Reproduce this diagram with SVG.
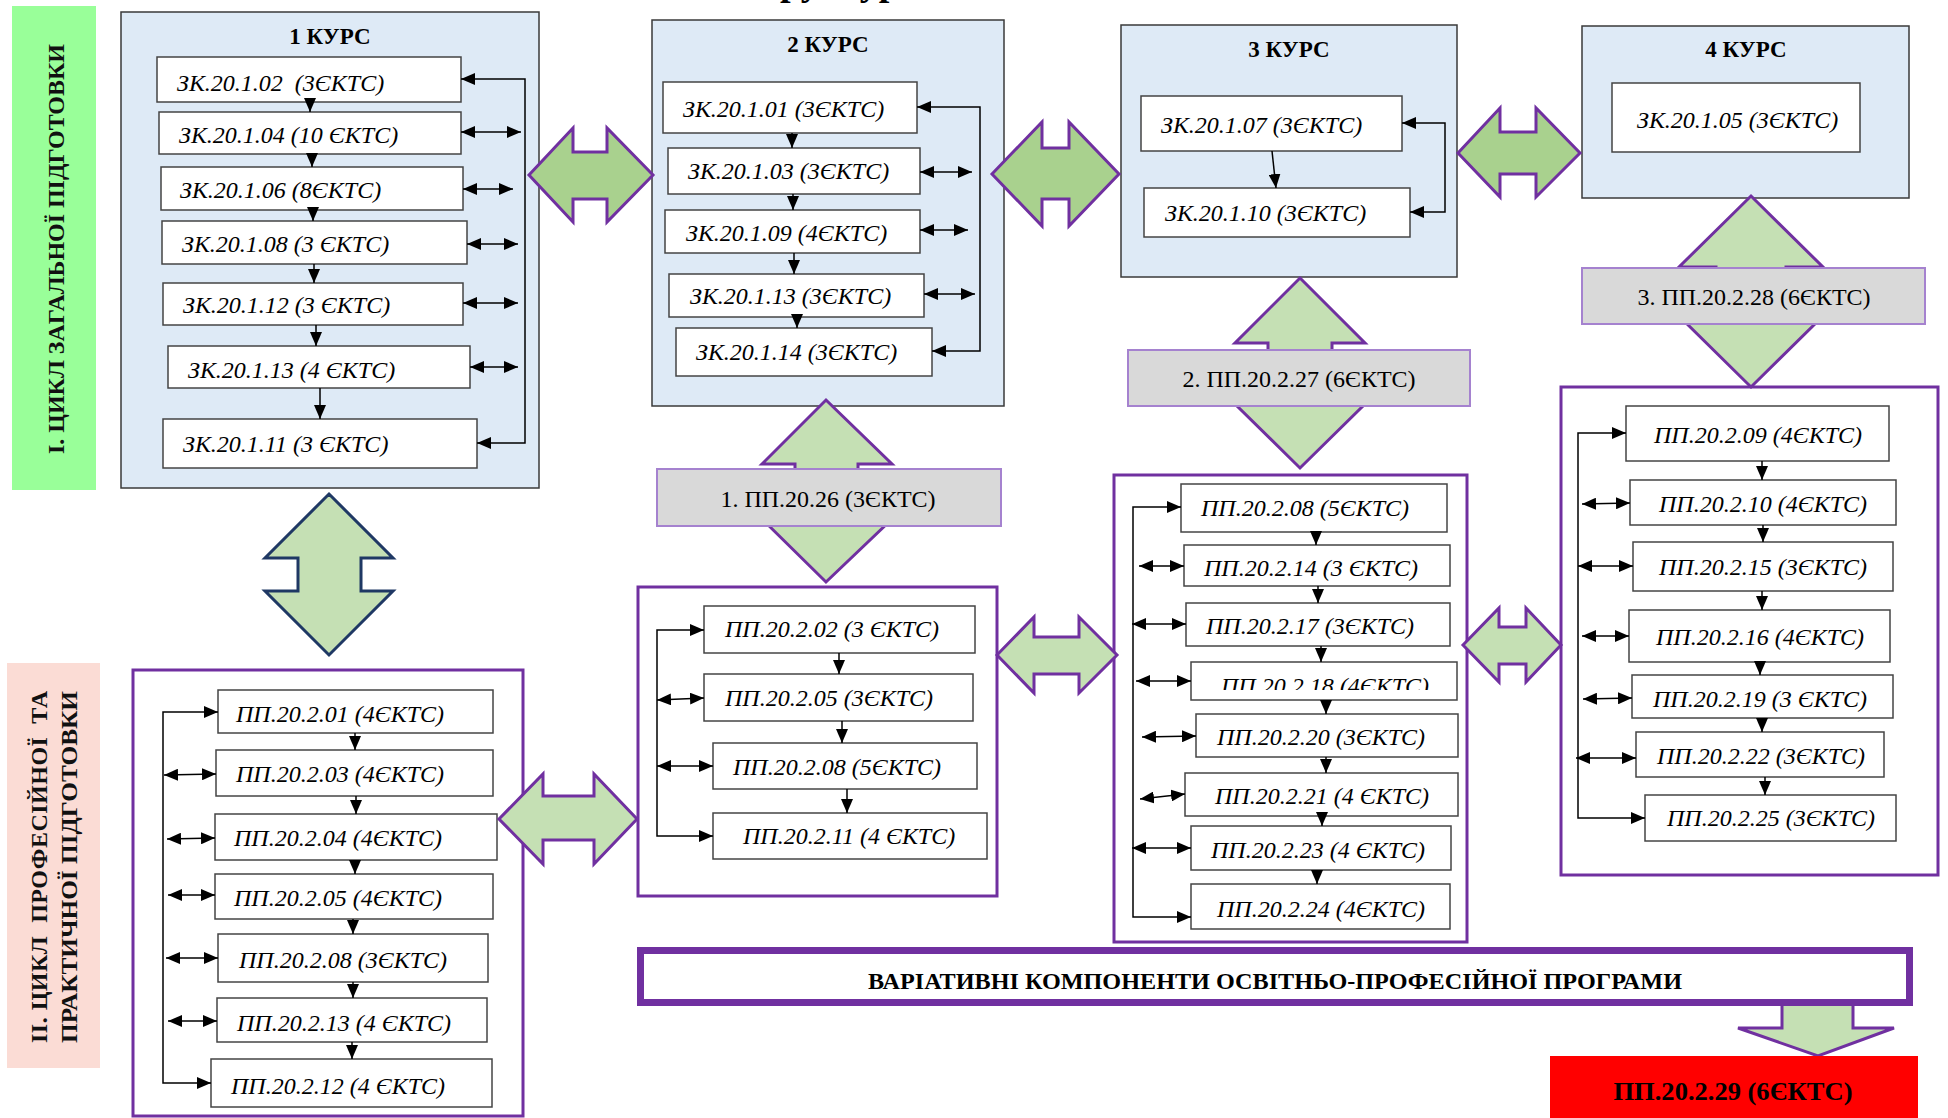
<svg xmlns="http://www.w3.org/2000/svg" width="1948" height="1118" viewBox="0 0 1948 1118">
<defs>
<style>
.course{fill:#DEEAF6;stroke:#3a3a3a;stroke-width:1.5}
.box{fill:#ffffff;stroke:#444444;stroke-width:1.5}
.grp{fill:#ffffff;stroke:#7030A0;stroke-width:3}
.gray{fill:#D9D9D9;stroke:#A582CF;stroke-width:2}
.t{font-family:"Liberation Serif","Times New Roman",serif;font-style:italic;font-size:24px;fill:#000}
.hd{font-family:"Liberation Serif","Times New Roman",serif;font-weight:bold;font-size:23px;fill:#000;text-anchor:middle}
.reg{font-family:"Liberation Serif","Times New Roman",serif;font-size:24px;fill:#000;text-anchor:middle}
.lbl{font-family:"Liberation Serif","Times New Roman",serif;font-weight:bold;font-size:24px;fill:#111;text-anchor:middle}
.ln{stroke:#000;stroke-width:1.5;fill:none}
.dn{stroke:#000;stroke-width:1.5;fill:none;marker-end:url(#ah)}
.dbl{stroke:#000;stroke-width:1.5;fill:none;marker-start:url(#ah);marker-end:url(#ah)}
.bigA{fill:#A9D18E;stroke:#7030A0;stroke-width:3;stroke-linejoin:miter}
.bigL{fill:#C5E0B4;stroke:#7030A0;stroke-width:3;stroke-linejoin:miter}
.bigN{fill:#C5E0B4;stroke:#1F3864;stroke-width:3;stroke-linejoin:miter}
</style>
<marker id="ah" viewBox="0 0 14 12" refX="14" refY="6" markerWidth="14" markerHeight="12" markerUnits="userSpaceOnUse" orient="auto-start-reverse">
<path d="M0,0 L14,6 L0,12 z" fill="#000"/>
</marker>
<clipPath id="clip18"><rect x="1191" y="662" width="266" height="28"/></clipPath>
</defs>

<text x="734" y="-5" font-family="Liberation Serif, serif" font-weight="bold" font-size="38">Структурно-логічна схема</text>

<g id="label-cycle1">
<rect x="12" y="6" width="84" height="484" fill="#99FF99"/>
<text class="lbl" transform="translate(64,249) rotate(-90)" textLength="410" lengthAdjust="spacingAndGlyphs">І. ЦИКЛ ЗАГАЛЬНОЇ ПІДГОТОВКИ</text>
</g>
<g id="label-cycle2">
<rect x="7" y="663" width="93" height="405" fill="#FBDCD5"/>
<text class="lbl" transform="translate(47,867) rotate(-90)" textLength="352" lengthAdjust="spacing">ІІ. ЦИКЛ&#160; ПРОФЕСІЙНОЇ&#160; ТА</text>
<text class="lbl" transform="translate(77,867) rotate(-90)" textLength="352" lengthAdjust="spacingAndGlyphs">ПРАКТИЧНОЇ ПІДГОТОВКИ</text>
</g>

<!-- course 1 -->
<g id="course1">
<rect class="course" x="121" y="12" width="418" height="476"/>
<text class="hd" x="330" y="44">1 КУРС</text>
</g>
<g id="zk-1-02"><rect class="box" x="157" y="57" width="304" height="45"/><text class="t" x="177" y="91">ЗК.20.1.02&#160; (3ЄКТС)</text></g>
<g id="zk-1-04"><rect class="box" x="159" y="112" width="302" height="42"/><text class="t" x="179" y="143">ЗК.20.1.04 (10 ЄКТС)</text></g>
<g id="zk-1-06"><rect class="box" x="161" y="167" width="302" height="43"/><text class="t" x="180" y="198">ЗК.20.1.06 (8ЄКТС)</text></g>
<g id="zk-1-08"><rect class="box" x="162" y="221" width="305" height="43"/><text class="t" x="182" y="252">ЗК.20.1.08 (3 ЄКТС)</text></g>
<g id="zk-1-12"><rect class="box" x="163" y="283" width="300" height="42"/><text class="t" x="183" y="313">ЗК.20.1.12 (3 ЄКТС)</text></g>
<g id="zk-1-13"><rect class="box" x="168" y="346" width="302" height="42"/><text class="t" x="188" y="378">ЗК.20.1.13 (4 ЄКТС)</text></g>
<g id="zk-1-11"><rect class="box" x="163" y="419" width="314" height="49"/><text class="t" x="183" y="452">ЗК.20.1.11 (3 ЄКТС)</text></g>

<!-- course 2 -->
<g id="course2">
<rect class="course" x="652" y="20" width="352" height="386"/>
<text class="hd" x="828" y="52">2 КУРС</text>
</g>
<g id="zk-2-01"><rect class="box" x="663" y="82" width="254" height="51"/><text class="t" x="683" y="117">ЗК.20.1.01 (3ЄКТС)</text></g>
<g id="zk-2-03"><rect class="box" x="668" y="148" width="252" height="46"/><text class="t" x="688" y="179">ЗК.20.1.03 (3ЄКТС)</text></g>
<g id="zk-2-09"><rect class="box" x="665" y="210" width="255" height="43"/><text class="t" x="686" y="241">ЗК.20.1.09 (4ЄКТС)</text></g>
<g id="zk-2-13"><rect class="box" x="669" y="274" width="255" height="43"/><text class="t" x="690" y="304">ЗК.20.1.13 (3ЄКТС)</text></g>
<g id="zk-2-14"><rect class="box" x="676" y="328" width="256" height="48"/><text class="t" x="696" y="360">ЗК.20.1.14 (3ЄКТС)</text></g>

<!-- course 3 -->
<g id="course3">
<rect class="course" x="1121" y="25" width="336" height="252"/>
<text class="hd" x="1289" y="57">3 КУРС</text>
</g>
<g id="zk-3-07"><rect class="box" x="1141" y="96" width="261" height="55"/><text class="t" x="1161" y="133">ЗК.20.1.07 (3ЄКТС)</text></g>
<g id="zk-3-10"><rect class="box" x="1144" y="188" width="266" height="49"/><text class="t" x="1165" y="221">ЗК.20.1.10 (3ЄКТС)</text></g>

<!-- course 4 -->
<g id="course4">
<rect class="course" x="1582" y="26" width="327" height="172"/>
<text class="hd" x="1746" y="57">4 КУРС</text>
</g>
<g id="zk-4-05"><rect class="box" x="1612" y="83" width="248" height="69"/><text class="t" x="1637" y="128">ЗК.20.1.05 (3ЄКТС)</text></g>

<!-- PP group 1 -->
<g id="pp-group1"><rect class="grp" x="133" y="670" width="390" height="446"/></g>
<g id="pp-2-01"><rect class="box" x="218" y="690" width="275" height="43"/><text class="t" x="236" y="722">ПП.20.2.01 (4ЄКТС)</text></g>
<g id="pp-2-03"><rect class="box" x="216" y="750" width="277" height="46"/><text class="t" x="236" y="782">ПП.20.2.03 (4ЄКТС)</text></g>
<g id="pp-2-04"><rect class="box" x="215" y="814" width="282" height="46"/><text class="t" x="234" y="846">ПП.20.2.04 (4ЄКТС)</text></g>
<g id="pp-2-05a"><rect class="box" x="215" y="874" width="278" height="45"/><text class="t" x="234" y="906">ПП.20.2.05 (4ЄКТС)</text></g>
<g id="pp-2-08a"><rect class="box" x="218" y="934" width="270" height="48"/><text class="t" x="239" y="968">ПП.20.2.08 (3ЄКТС)</text></g>
<g id="pp-2-13"><rect class="box" x="217" y="998" width="270" height="44"/><text class="t" x="237" y="1031">ПП.20.2.13 (4 ЄКТС)</text></g>
<g id="pp-2-12"><rect class="box" x="211" y="1059" width="281" height="48"/><text class="t" x="231" y="1094">ПП.20.2.12 (4 ЄКТС)</text></g>

<!-- PP group 2 -->
<g id="pp-group2"><rect class="grp" x="638" y="587" width="359" height="309"/></g>
<g id="pp-2-02"><rect class="box" x="704" y="606" width="271" height="47"/><text class="t" x="725" y="637">ПП.20.2.02 (3 ЄКТС)</text></g>
<g id="pp-2-05b"><rect class="box" x="704" y="674" width="269" height="47"/><text class="t" x="725" y="706">ПП.20.2.05 (3ЄКТС)</text></g>
<g id="pp-2-08b"><rect class="box" x="713" y="743" width="264" height="46"/><text class="t" x="733" y="775">ПП.20.2.08 (5ЄКТС)</text></g>
<g id="pp-2-11"><rect class="box" x="713" y="813" width="274" height="46"/><text class="t" x="743" y="844">ПП.20.2.11 (4 ЄКТС)</text></g>

<!-- PP group 3 -->
<g id="pp-group3"><rect class="grp" x="1114" y="475" width="353" height="467"/></g>
<g id="pp-2-08c"><rect class="box" x="1181" y="484" width="266" height="48"/><text class="t" x="1201" y="516">ПП.20.2.08 (5ЄКТС)</text></g>
<g id="pp-2-14"><rect class="box" x="1184" y="545" width="266" height="41"/><text class="t" x="1204" y="576">ПП.20.2.14 (3 ЄКТС)</text></g>
<g id="pp-2-17"><rect class="box" x="1186" y="603" width="264" height="43"/><text class="t" x="1206" y="634">ПП.20.2.17 (3ЄКТС)</text></g>
<g id="pp-2-18"><rect class="box" x="1191" y="662" width="266" height="38"/><text class="t" x="1221" y="694" clip-path="url(#clip18)">ПП.20.2.18 (4ЄКТС)</text></g>
<g id="pp-2-20"><rect class="box" x="1196" y="714" width="262" height="43"/><text class="t" x="1217" y="745">ПП.20.2.20 (3ЄКТС)</text></g>
<g id="pp-2-21"><rect class="box" x="1185" y="773" width="273" height="43"/><text class="t" x="1215" y="804">ПП.20.2.21 (4 ЄКТС)</text></g>
<g id="pp-2-23"><rect class="box" x="1191" y="826" width="260" height="44"/><text class="t" x="1211" y="858">ПП.20.2.23 (4 ЄКТС)</text></g>
<g id="pp-2-24"><rect class="box" x="1191" y="884" width="259" height="45"/><text class="t" x="1217" y="917">ПП.20.2.24 (4ЄКТС)</text></g>

<!-- PP group 4 -->
<g id="pp-group4"><rect class="grp" x="1561" y="387" width="377" height="488"/></g>
<g id="pp-2-09"><rect class="box" x="1626" y="406" width="263" height="55"/><text class="t" x="1654" y="443">ПП.20.2.09 (4ЄКТС)</text></g>
<g id="pp-2-10"><rect class="box" x="1630" y="480" width="266" height="45"/><text class="t" x="1659" y="512">ПП.20.2.10 (4ЄКТС)</text></g>
<g id="pp-2-15"><rect class="box" x="1633" y="542" width="260" height="49"/><text class="t" x="1659" y="575">ПП.20.2.15 (3ЄКТС)</text></g>
<g id="pp-2-16"><rect class="box" x="1629" y="610" width="261" height="52"/><text class="t" x="1656" y="645">ПП.20.2.16 (4ЄКТС)</text></g>
<g id="pp-2-19"><rect class="box" x="1632" y="675" width="261" height="43"/><text class="t" x="1653" y="707">ПП.20.2.19 (3 ЄКТС)</text></g>
<g id="pp-2-22"><rect class="box" x="1636" y="732" width="248" height="45"/><text class="t" x="1657" y="764">ПП.20.2.22 (3ЄКТС)</text></g>
<g id="pp-2-25"><rect class="box" x="1645" y="795" width="251" height="46"/><text class="t" x="1667" y="826">ПП.20.2.25 (3ЄКТС)</text></g>

<g id="connectors">
<!-- course 1 -->
<line class="dn" x1="310" y1="102" x2="310" y2="112"/>
<line class="dn" x1="312" y1="154" x2="312" y2="167"/>
<line class="dn" x1="313" y1="210" x2="313" y2="221"/>
<line class="dn" x1="314" y1="264" x2="314" y2="283"/>
<line class="dn" x1="316" y1="325" x2="316" y2="346"/>
<line class="dn" x1="320" y1="388" x2="320" y2="419"/>
<path class="dbl" d="M461,79 H525 V443 H477"/>
<line class="dbl" x1="461" y1="132" x2="521" y2="132"/>
<line class="dbl" x1="463" y1="189" x2="513" y2="189"/>
<line class="dbl" x1="467" y1="244" x2="518" y2="244"/>
<line class="dbl" x1="463" y1="303" x2="518" y2="303"/>
<line class="dbl" x1="470" y1="367" x2="518" y2="367"/>
<!-- course 2 -->
<line class="dn" x1="792" y1="133" x2="792" y2="148"/>
<line class="dn" x1="793" y1="194" x2="793" y2="210"/>
<line class="dn" x1="794" y1="253" x2="794" y2="274"/>
<line class="dn" x1="797" y1="317" x2="797" y2="328"/>
<path class="dbl" d="M917,107 H980 V351 H932"/>
<line class="dbl" x1="920" y1="172" x2="972" y2="172"/>
<line class="dbl" x1="920" y1="230" x2="968" y2="230"/>
<line class="dbl" x1="924" y1="294" x2="975" y2="294"/>
<!-- course 3 -->
<line class="dn" x1="1272" y1="151" x2="1276" y2="188"/>
<path class="dbl" d="M1402,123 H1445 V212 H1410"/>
<!-- PP group 1 -->
<line class="dn" x1="355" y1="733" x2="355" y2="750"/>
<line class="dn" x1="356" y1="796" x2="356" y2="814"/>
<line class="dn" x1="355" y1="860" x2="355" y2="874"/>
<line class="dn" x1="353" y1="919" x2="353" y2="934"/>
<line class="dn" x1="353" y1="982" x2="353" y2="998"/>
<line class="dn" x1="352" y1="1042" x2="352" y2="1059"/>
<path class="dbl" d="M218,712 H163 V1083 H211"/>
<line class="dbl" x1="164" y1="775" x2="216" y2="774"/>
<line class="dbl" x1="167" y1="839" x2="215" y2="838"/>
<line class="dbl" x1="168" y1="895" x2="215" y2="895"/>
<line class="dbl" x1="166" y1="958" x2="218" y2="958"/>
<line class="dbl" x1="168" y1="1021" x2="217" y2="1021"/>
<!-- PP group 2 -->
<line class="dn" x1="839" y1="653" x2="839" y2="674"/>
<line class="dn" x1="842" y1="721" x2="842" y2="743"/>
<line class="dn" x1="847" y1="789" x2="847" y2="813"/>
<path class="dbl" d="M704,630 H657 V836 H713"/>
<line class="dbl" x1="657" y1="700" x2="704" y2="698"/>
<line class="dbl" x1="657" y1="766" x2="713" y2="766"/>
<!-- PP group 3 -->
<line class="dn" x1="1316" y1="532" x2="1316" y2="545"/>
<line class="dn" x1="1318" y1="586" x2="1318" y2="603"/>
<line class="dn" x1="1321" y1="646" x2="1321" y2="662"/>
<line class="dn" x1="1326" y1="700" x2="1326" y2="714"/>
<line class="dn" x1="1326" y1="757" x2="1326" y2="773"/>
<line class="dn" x1="1322" y1="816" x2="1322" y2="826"/>
<line class="dn" x1="1317" y1="870" x2="1317" y2="884"/>
<path class="dbl" d="M1181,507 H1133 V917 H1191"/>
<line class="dbl" x1="1139" y1="566" x2="1184" y2="566"/>
<line class="dbl" x1="1132" y1="624" x2="1186" y2="624"/>
<line class="dbl" x1="1136" y1="681" x2="1191" y2="681"/>
<line class="dbl" x1="1142" y1="737" x2="1196" y2="736"/>
<line class="dbl" x1="1140" y1="799" x2="1185" y2="794"/>
<line class="dbl" x1="1132" y1="848" x2="1191" y2="848"/>
<!-- PP group 4 -->
<line class="dn" x1="1762" y1="461" x2="1762" y2="480"/>
<line class="dn" x1="1763" y1="525" x2="1763" y2="542"/>
<line class="dn" x1="1762" y1="591" x2="1762" y2="610"/>
<line class="dn" x1="1760" y1="662" x2="1760" y2="675"/>
<line class="dn" x1="1762" y1="718" x2="1762" y2="732"/>
<line class="dn" x1="1765" y1="777" x2="1765" y2="795"/>
<path class="dbl" d="M1626,433 H1578 V818 H1645"/>
<line class="dbl" x1="1582" y1="504" x2="1630" y2="503"/>
<line class="dbl" x1="1578" y1="566" x2="1633" y2="566"/>
<line class="dbl" x1="1582" y1="636" x2="1629" y2="636"/>
<line class="dbl" x1="1583" y1="699" x2="1632" y2="698"/>
<line class="dbl" x1="1576" y1="758" x2="1636" y2="758"/>
<!-- block arrows -->
<polygon class="bigA" points="529,175 573,128 573,152 607,152 607,128 653,175 607,222 607,199 573,199 573,222"/>
<polygon class="bigA" points="992,174 1042,122 1042,148 1069,148 1069,122 1119,174 1069,226 1069,199 1042,199 1042,226"/>
<polygon class="bigA" points="1458,153 1500,108 1500,132 1536,132 1536,108 1580,153 1536,197 1536,174 1500,174 1500,197"/>
<polygon class="bigL" points="499,819 543,774 543,796 594,796 594,774 637,819 594,864 594,840 543,840 543,864"/>
<polygon class="bigL" points="997,655 1034,617 1034,637 1079,637 1079,617 1117,655 1079,693 1079,674 1034,674 1034,693"/>
<polygon class="bigL" points="1463,645 1499,608 1499,627 1526,627 1526,608 1561,645 1526,682 1526,664 1499,664 1499,682"/>
<polygon class="bigN" points="329,494 393,558 361,558 361,591 393,591 329,655 265,591 298,591 298,558 265,558"/>
<polygon class="bigL" points="826,400 892,464 858,464 858,519 892,519 826,582 762,519 795,519 795,464 762,464"/>
<polygon class="bigL" points="1300,278 1365,343 1332,343 1332,404 1365,404 1300,468 1235,404 1268,404 1268,343 1235,343"/>
<polygon class="bigL" points="1751,196 1823,267 1786,267 1786,316 1823,316 1751,387 1679,316 1716,316 1716,267 1679,267"/>
<polygon class="bigL" points="1782,1004 1853,1004 1853,1028 1894,1028 1818,1056 1738,1028 1782,1028"/>
</g>

<g id="pp-2-26">
<rect class="gray" x="657" y="469" width="344" height="57"/>
<text class="reg" x="828" y="507">1. ПП.20.26 (3ЄКТС)</text>
</g>
<g id="pp-2-27">
<rect class="gray" x="1128" y="350" width="342" height="56"/>
<text class="reg" x="1299" y="387">2. ПП.20.2.27 (6ЄКТС)</text>
</g>
<g id="pp-2-28">
<rect class="gray" x="1582" y="268" width="343" height="56"/>
<text class="reg" x="1754" y="305">3. ПП.20.2.28 (6ЄКТС)</text>
</g>

<g id="variative">
<rect x="640.5" y="950.5" width="1269" height="52" fill="#ffffff" stroke="#7030A0" stroke-width="7"/>
<text x="868" y="989" font-family="Liberation Serif, serif" font-weight="bold" font-size="23" textLength="814" lengthAdjust="spacingAndGlyphs">ВАРІАТИВНІ КОМПОНЕНТИ ОСВІТНЬО-ПРОФЕСІЙНОЇ ПРОГРАМИ</text>
</g>

<g id="pp-2-29">
<rect x="1550" y="1056" width="368" height="62" fill="#FF0000"/>
<text x="1733" y="1100" font-family="Liberation Serif, serif" font-weight="bold" font-size="26" text-anchor="middle" textLength="239" lengthAdjust="spacingAndGlyphs">ПП.20.2.29 (6ЄКТС)</text>
</g>
</svg>
